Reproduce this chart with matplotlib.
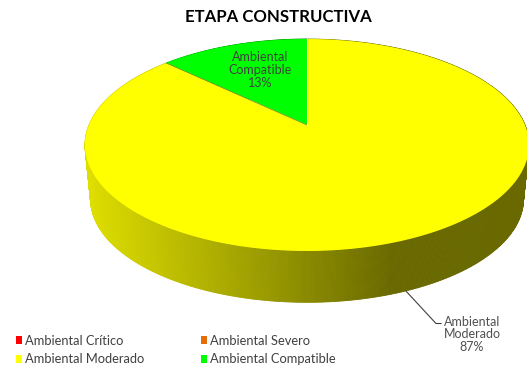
import numpy as np
import matplotlib
matplotlib.use('Agg')
import matplotlib.pyplot as plt
from matplotlib.patches import Patch

categories = ['Ambiental Crítico', 'Ambiental Severo', 'Ambiental Moderado', 'Ambiental Compatible']
values = [0, 0, 87, 13]
colors = ['#FF0000', '#E46C0A', '#FFFF00', '#00FF00']
title = 'ETAPA CONSTRUCTIVA'

W, H = 527, 368
cx, cy = 307, 125   # apex of the pie on screen
a, b, k = 218, 102.2, 0.1887   # perspective of the top disc
depth = 52
shrink = 0.975      # bottom disc looks a bit narrower

plt.rcParams['font.family'] = ['Lato', 'DejaVu Sans']


def project(theta, base=False):
    # theta clockwise from the top of the pie
    X = np.sin(theta)
    Y = np.cos(theta)
    d = 1 + k * Y
    s = shrink if base else 1.0
    x = cx + s * a * X / d
    y = cy - s * b * Y / d
    if base:
        y = y + depth + 2.5
    return x, y


def shade(color, x):
    f = np.interp(x, [87, 393], [0.87, 0.41])
    return tuple(f * c for c in matplotlib.colors.to_rgb(color))


fig = plt.figure(figsize=(W / 100, H / 100), dpi=100)
ax = fig.add_axes([0, 0, 1, 1])
ax.set_xlim(0, W)
ax.set_ylim(H, 0)
ax.axis('off')

total = float(sum(values))
fracs = np.cumsum([0] + values) / total * 2 * np.pi

# side wall first, the top hides the back part
for i in range(len(values)):
    if values[i] == 0:
        continue
    th = np.linspace(fracs[i], fracs[i + 1], int(values[i] * 8) + 2)
    xt, yt = project(th)
    xb, yb = project(th, base=True)
    for j in range(len(th) - 1):
        c = shade(colors[i], (xt[j] + xt[j + 1]) / 2)
        ax.fill([xt[j], xt[j + 1], xb[j + 1], xb[j]], [yt[j], yt[j + 1], yb[j + 1], yb[j]],
                color=c, lw=0.6, zorder=1)

# top of the pie
for i in range(len(values)):
    if values[i] == 0:
        continue
    th = np.linspace(fracs[i], fracs[i + 1], 300)
    xt, yt = project(th)
    ax.fill(np.r_[cx, xt], np.r_[cy, yt], facecolor=colors[i], edgecolor='none', zorder=2)

# thin edges between the two slices
x1, y1 = project(fracs[3])
ax.plot([cx, x1], [cy, y1], color='#8a8a30', lw=0.5, zorder=3)
x0, y0 = project(0.0)
ax.plot([cx, x0], [cy, y0], color='white', lw=0.7, zorder=3)

ax.text(260, 70, 'Ambiental\nCompatible\n%d%%' % values[3], ha='center', va='center',
        fontsize=9, color='#404040', linespacing=1.08, zorder=4)
ax.text(472, 334.5, 'Ambiental\nModerado\n%d%%' % values[2], ha='center', va='center',
        fontsize=9, color='#505050', linespacing=1.08, zorder=4)
ax.plot([405, 436, 441], [290, 323.5, 323.5], color='#404040', lw=0.8, zorder=0)

ax.text(278, 16.5, title, ha='center', va='center', fontsize=12.1, fontweight='bold', color='black')

handles = [Patch(facecolor=c, edgecolor='none') for c in colors]
# row order in the picture is left to right, legend fills by column
order = [0, 2, 1, 3]
leg = ax.legend([handles[i] for i in order], [categories[i] for i in order], ncol=2, frameon=False,
                loc='lower left', bbox_to_anchor=(13 / W, 1 - 368 / H), borderaxespad=0, borderpad=0.2,
                fontsize=9.3, handlelength=0.5, handleheight=0.55, handletextpad=0.2,
                columnspacing=4.4, labelspacing=0.5, labelcolor='#404040')

fig.savefig('out.png', dpi=100)
